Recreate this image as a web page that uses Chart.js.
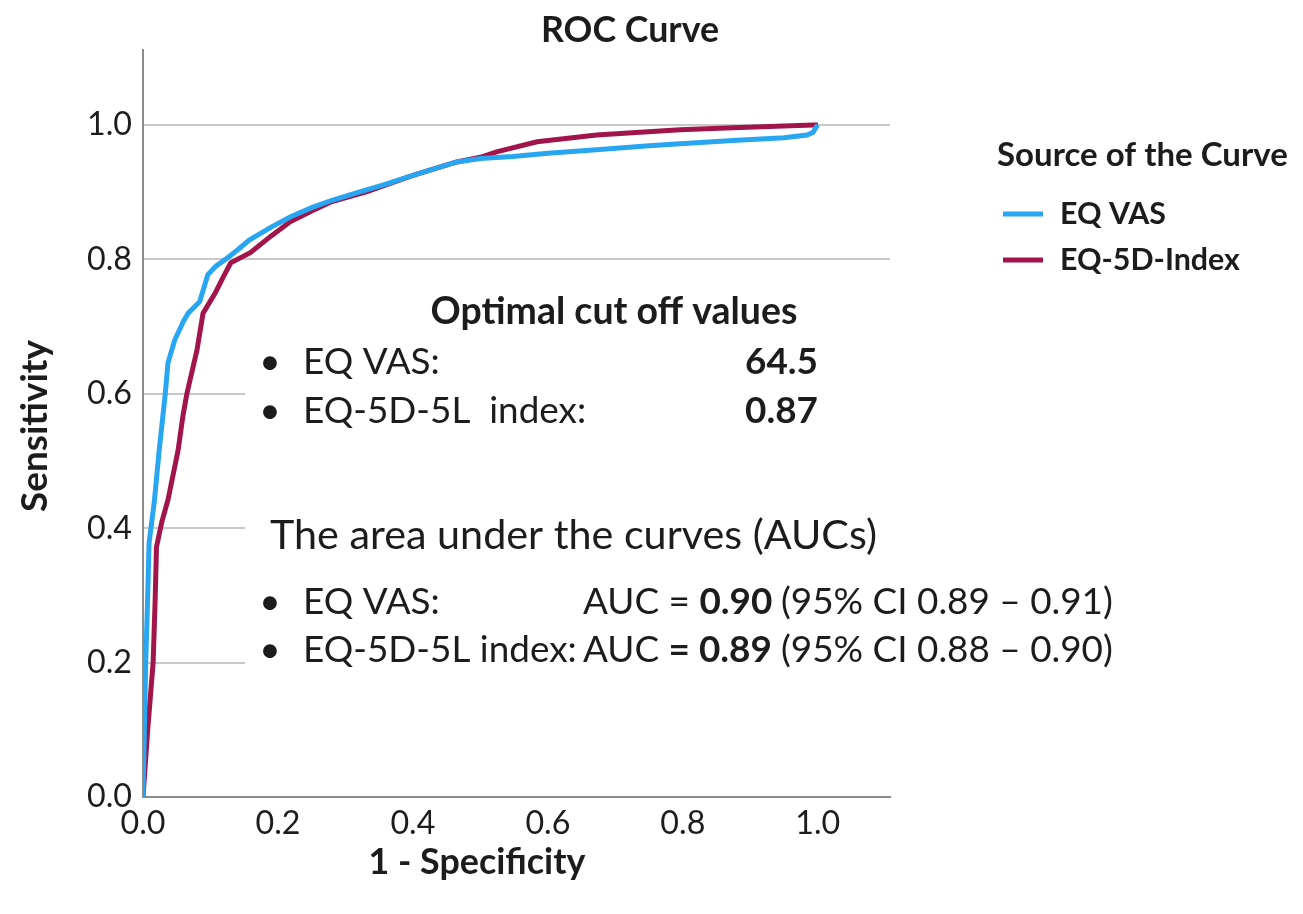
<!DOCTYPE html>
<html>
<head>
<meta charset="utf-8">
<script src="https://cdn.jsdelivr.net/npm/chart.js@4.4.1/dist/chart.umd.min.js"></script>
<style>
  html, body { margin: 0; padding: 0; background: #ffffff; }
  #wrap { width: 1303px; height: 914px; position: relative; }
</style>
</head>
<body>
<div id="wrap"><canvas id="rocChart"></canvas></div>
<script>
// ROC curve points (1 - specificity, sensitivity)
const fprVas = [0, 0.002, 0.004, 0.007, 0.009, 0.017, 0.024, 0.033, 0.037, 0.047, 0.060, 0.067, 0.084, 0.096, 0.108, 0.122, 0.140, 0.158, 0.190, 0.218, 0.250, 0.280, 0.320, 0.360, 0.400, 0.465, 0.500, 0.548, 0.600, 0.672, 0.750, 0.796, 0.874, 0.950, 0.984, 0.993, 0.997, 1.0];
const tprVas = [0, 0.100, 0.200, 0.300, 0.378, 0.442, 0.516, 0.600, 0.646, 0.680, 0.708, 0.720, 0.737, 0.777, 0.790, 0.800, 0.814, 0.829, 0.848, 0.863, 0.877, 0.888, 0.900, 0.912, 0.925, 0.945, 0.950, 0.953, 0.958, 0.963, 0.969, 0.972, 0.977, 0.981, 0.985, 0.989, 0.996, 1.0];

const fprIdx = [0, 0.007, 0.015, 0.018, 0.020, 0.028, 0.037, 0.052, 0.059, 0.065, 0.080, 0.089, 0.107, 0.119, 0.130, 0.159, 0.190, 0.218, 0.250, 0.280, 0.332, 0.360, 0.400, 0.465, 0.500, 0.524, 0.584, 0.672, 0.796, 0.874, 0.993, 1.0];
const tprIdx = [0, 0.100, 0.200, 0.293, 0.372, 0.410, 0.442, 0.516, 0.566, 0.600, 0.665, 0.720, 0.750, 0.774, 0.795, 0.810, 0.835, 0.856, 0.872, 0.886, 0.901, 0.911, 0.925, 0.945, 0.952, 0.960, 0.975, 0.985, 0.993, 0.996, 1.0, 1.0];

const seriesNames = ["EQ VAS", "EQ-5D-Index"];
const xTickValues = [0, 0.2, 0.4, 0.6, 0.8, 1.0];
const yTickValues = [0, 0.2, 0.4, 0.6, 0.8, 1.0];

const cutoffRows = [
  ["EQ VAS:", "64.5"],
  ["EQ-5D-5L  index:", "0.87"],
];
const aucRows = [
  ["EQ VAS:", "AUC = ", "0.90", "(95% CI 0.89 – 0.91)"],
  ["EQ-5D-5L index:", "AUC ", "= 0.89", "(95% CI 0.88 – 0.90)"],
];

const FONT = "Lato, 'Open Sans', sans-serif";
const COLORS = { vas: "#29a6f2", idx: "#a2154b", text: "#1c1c1c", grid: "#c8c8c8", axis: "#8c8c8c" };

const measureCtx = document.createElement("canvas").getContext("2d");
function fitSize(text, weight, width) {
  measureCtx.font = `${weight} 100px ${FONT}`;
  return (100 * width) / measureCtx.measureText(text).width;
}

function toPoints(xs, ys) {
  return xs.map((x, i) => ({ x, y: ys[i] }));
}

function drawText(ctx, text, x, y, size, weight, align) {
  ctx.font = `${weight} ${size}px ${FONT}`;
  ctx.textAlign = align || "left";
  ctx.textBaseline = "middle";
  ctx.fillStyle = COLORS.text;
  ctx.fillText(text, x, y);
  return ctx.measureText(text).width;
}

const tickSize = fitSize("1.0", "normal", 45);

// white panel behind the notes hides the grid lines, as in the figure
const notePanel = {
  id: "notePanel",
  beforeDatasetsDraw(chart) {
    const ctx = chart.ctx;
    ctx.save();
    ctx.fillStyle = "#ffffff";
    ctx.fillRect(245, 274, 900, 418);
    ctx.restore();
  },
  afterDraw(chart) {
    const ctx = chart.ctx;
    ctx.save();

    // titles
    drawText(ctx, "ROC Curve", 630, 30, fitSize("ROC Curve", "bold", 178), "bold", "center");
    drawText(ctx, "1 - Specificity", 477, 862, fitSize("1 - Specificity", "bold", 217), "bold", "center");
    ctx.save();
    ctx.translate(35, 426);
    ctx.rotate(-Math.PI / 2);
    drawText(ctx, "Sensitivity", 0, 0, fitSize("Sensitivity", "bold", 172), "bold", "center");
    ctx.restore();

    // legend
    drawText(ctx, "Source of the Curve", 997, 155, fitSize("Source of the Curve", "bold", 291), "bold");
    const legSize = fitSize(seriesNames[1], "bold", 180);
    [COLORS.vas, COLORS.idx].forEach((c, i) => {
      const y = 214 + i * 46;
      ctx.strokeStyle = c;
      ctx.lineWidth = 5;
      ctx.beginPath();
      ctx.moveTo(1003, y);
      ctx.lineTo(1043, y);
      ctx.stroke();
      drawText(ctx, seriesNames[i], 1060, y, legSize, "bold");
    });

    // notes
    const rowSize = fitSize(aucRows[0][3], "normal", 332);
    drawText(ctx, "Optimal cut off values", 614, 312, fitSize("Optimal cut off values", "bold", 367), "bold", "center");
    cutoffRows.forEach((r, i) => {
      const y = 362 + i * 49;
      drawText(ctx, "•", 270, y, rowSize, "normal", "center");
      drawText(ctx, r[0], 303, y, rowSize, "normal");
      drawText(ctx, r[1], 818, y, rowSize, "bold", "right");
    });
    drawText(ctx, "The area under the curves (AUCs)", 270, 536, fitSize("The area under the curves (AUCs)", "normal", 607), "normal");
    aucRows.forEach((r, i) => {
      const y = 602 + i * 48;
      drawText(ctx, "•", 270, y, rowSize, "normal", "center");
      drawText(ctx, r[0], 303, y, rowSize, "normal");
      const w = drawText(ctx, r[1], 583, y, rowSize, "normal");
      drawText(ctx, r[2], 583 + w, y, rowSize, "bold");
      drawText(ctx, r[3], 781, y, rowSize, "normal");
    });
    ctx.restore();
  },
};

const tickOpts = () => ({
  color: COLORS.text,
  font: { family: FONT, size: tickSize },
  callback: (v) => Number(v).toFixed(1),
});

new Chart(document.getElementById("rocChart"), {
  type: "scatter",
  data: {
    datasets: [
      { label: seriesNames[0], data: toPoints(fprVas, tprVas), borderColor: COLORS.vas, showLine: true, borderWidth: 5, pointRadius: 0, tension: 0 },
      { label: seriesNames[1], data: toPoints(fprIdx, tprIdx), borderColor: COLORS.idx, showLine: true, borderWidth: 5, pointRadius: 0, tension: 0 },
    ],
  },
  options: {
    responsive: true,
    maintainAspectRatio: false,
    animation: false,
    layout: { padding: { left: 0, top: 50, right: 413, bottom: 0 } },
    plugins: { legend: { display: false }, tooltip: { enabled: false }, title: { display: false } },
    scales: {
      x: {
        type: "linear",
        min: 0,
        max: 1.107,
        afterBuildTicks: (s) => { s.ticks = xTickValues.map((v) => ({ value: v })); },
        afterFit: (s) => { s.height = 117; },
        grid: { display: false, drawTicks: false },
        border: { display: true, color: COLORS.axis, width: 2 },
        ticks: { ...tickOpts(), padding: 7, maxRotation: 0 },
      },
      y: {
        type: "linear",
        min: 0,
        max: 1.1116,
        afterBuildTicks: (s) => { s.ticks = yTickValues.map((v) => ({ value: v })); },
        afterFit: (s) => { s.width = 143; },
        grid: { color: COLORS.grid, lineWidth: 2, drawTicks: false },
        border: { display: true, color: COLORS.axis, width: 2 },
        ticks: { ...tickOpts(), padding: 11 },
      },
    },
  },
  plugins: [notePanel],
});
</script>
</body>
</html>
